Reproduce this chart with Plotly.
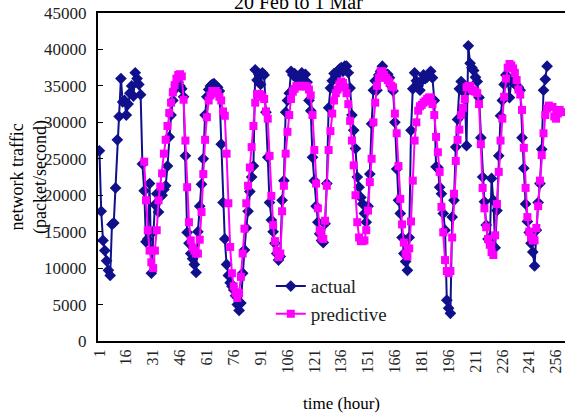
import plotly.graph_objects as go

# hour index of each observation
actual_start = 1
predictive_start = 26

actual = [
    26100, 17800, 13800, 12400, 11000, 9700, 9000, 16000, 16200, 21000,
    27600, 30800, 36000, 32800, 33000, 31000, 32500, 34000, 35000, 33600,
    36800, 36000, 35200, 33800, 24300, 20600, 13600, 14000, 21600, 9300,
    15000, 18700, 20200, 17700, 19800, 20000, 20800, 21300, 24000, 28000,
    31000, 33000, 34500, 35200, 35500, 35000, 34600, 33500, 25400, 14900,
    13400, 12000, 11300, 10500, 9400, 15000, 18500, 21500, 25000, 31000,
    33500, 34500, 35000, 35200, 35300, 35000, 34800, 34300, 27000, 19000,
    14000, 10500, 9000, 8000, 7500, 7000, 6200, 5000, 4200, 5200,
    9300, 12500, 15500, 17800, 20500, 22500, 24000, 37200, 35800, 36600,
    35200, 36800, 36500, 31400, 25200, 19000, 16600, 15000, 13400, 12000,
    11100, 11600, 19300, 22000, 31400, 33000, 34000, 37000, 36500, 36700,
    36100, 35800, 36300, 36800, 36400, 36600, 35500, 33000, 31600, 25200,
    22000, 18500, 16300, 14700, 13800, 13500, 16100, 21600, 32000, 34700,
    35700, 36700, 36300, 36800, 37300, 37500, 37000, 37700, 37700, 36800,
    34700, 31000, 28900, 26400, 22500, 21100, 19700, 18800, 17500, 16300,
    18500, 22900, 29800, 34400, 35700, 34400, 36500, 37000, 37700, 36800,
    36600, 36600, 36100, 35000, 34300, 30000, 23600, 19300, 17500, 14200,
    12000, 10900, 9700, 14200, 28900, 34600, 36800, 35700, 35000, 34400,
    35700, 36500, 36000, 36200, 36500, 37000, 36100, 33000, 23900, 23800,
    21100, 20200, 17500, 15200, 5600, 4500, 3800, 17000, 19300, 26600,
    30400, 34600, 35600, 34800, 34000, 26800, 40500, 38100, 37500, 37100,
    36200, 35600, 33400, 27900, 22500, 19100, 15900, 14000, 13600, 22300,
    19300, 12800, 17900, 25400, 30900, 33000, 35200, 36500, 36000, 33400,
    35600, 35500, 35300, 35000, 34800, 34400, 27900, 23700, 18800, 16400,
    14900, 13400, 12200, 10300, 15200, 19000, 21600, 26300, 34400, 35900,
    37700,
]

predictive = [
    24600, 19300, 15200, 12400, 10800,
    10000, 12400, 15200, 19300, 21200, 23000, 25700, 27600, 29500, 31300,
    32700, 34100, 35100, 36000, 36500, 36600, 36300, 33100, 27500, 21100,
    16300, 13800, 12800, 12400, 12000, 12000, 13900, 17700, 22900, 27600,
    30700, 33000, 33700, 34300, 34300, 34300, 34000, 33500, 33000, 31500,
    30900, 25700, 18900, 12900, 9300, 7500, 6600, 5900, 6600, 8800,
    12000, 15400, 18900, 21300, 23800, 26600, 29500, 32700, 33900, 33900,
    33800, 33500, 33200, 31500, 30500, 25400, 19900, 15900, 13700, 12400,
    11500, 12000, 17800, 21300, 25700, 28700, 31000, 33200, 34200, 34600,
    35000, 35000, 34900, 35000, 35000, 35000, 34900, 34500, 33700, 31000,
    26200, 21600, 18200, 15200, 14200, 14000, 16500, 21300, 26200, 28800,
    31200, 33000, 34000, 34500, 35200, 35600, 35400, 34800, 34000, 32500,
    30200, 27500, 24100, 20000, 16300, 14200, 13700, 13700, 13800, 15200,
    17900, 21800, 25000, 30000, 32700, 35000, 36100, 37000, 37000, 36500,
    36100, 35800, 35500, 35000, 34800, 31200, 28500, 24000, 19500, 16000,
    13500, 12000, 11600, 12700, 16400, 22000, 27500, 30000, 31600, 32200,
    32400, 32700, 32900, 33200, 33400, 33400, 32500, 31000, 28000, 25900,
    23200, 18400, 14900, 11100, 9600, 9300, 9600, 14200, 20200, 24700,
    27600, 29000, 31000, 32000, 33200, 34800, 35000, 35000, 34500, 34300,
    34200, 34000, 32500, 27000, 21000, 18200, 15600, 14000, 13200, 12200,
    11800, 14500, 18800, 23200, 27500, 30500, 33500, 36000, 37500, 38000,
    37800, 37400, 36800, 35800, 34500, 33800, 31700, 26500, 21000, 17000,
    15000, 14200, 13800, 13800, 15500, 18500, 22000, 25500, 28500, 31000,
    31900, 32300, 32100, 32100, 30800, 30500, 31200, 31700, 31400,
]

x_tick_labels = [1, 16, 31, 46, 61, 76, 91, 106, 121, 136, 151, 166, 181, 196, 211, 226, 241, 256]
y_ticks = [0, 5000, 10000, 15000, 20000, 25000, 30000, 35000, 40000, 45000]

hours_actual = list(range(actual_start, actual_start + len(actual)))
hours_pred = list(range(predictive_start, predictive_start + len(predictive)))

FONT = "Liberation Serif"
BLUE = "#10108C"
MAGENTA = "#FF00FF"

fig = go.Figure()
fig.add_trace(go.Scatter(
    x=hours_actual, y=actual, name="actual", mode="lines+markers",
    line=dict(color=BLUE, width=2),
    marker=dict(symbol="diamond", size=9, color=BLUE),
))
fig.add_trace(go.Scatter(
    x=hours_pred, y=predictive, name="predictive", mode="lines+markers",
    line=dict(color=MAGENTA, width=2),
    marker=dict(symbol="square", size=8, color=MAGENTA),
))

W, H = 565, 414
L, T, B = 97.5, 12.5, 73
fig.update_layout(
    width=W, height=H,
    margin=dict(l=L, r=0, t=T, b=B, autoexpand=False),
    paper_bgcolor="white", plot_bgcolor="white",
    font=dict(family=FONT, color="black", size=16),
    showlegend=True,
    legend=dict(
        x=0.37, y=0.225, xanchor="left", yanchor="top",
        bgcolor="rgba(0,0,0,0)", font=dict(family=FONT, size=19, color="#222"),
        tracegroupgap=0,
    ),
    annotations=[
        dict(text="20 Feb to 1 Mar", xref="paper", yref="paper", x=0.429, y=1.035,
             xanchor="center", yanchor="middle", showarrow=False,
             font=dict(family=FONT, size=20, color="black")),
        dict(text="time (hour)", xref="paper", yref="paper", x=0.521, y=-0.19,
             xanchor="center", yanchor="middle", showarrow=False,
             font=dict(family=FONT, size=17, color="black")),
        dict(text="network traffic<br>(packet/second)", xref="paper", yref="paper",
             x=-0.148, y=0.5, xanchor="center", yanchor="middle", textangle=-90,
             showarrow=False, font=dict(family=FONT, size=18, color="black")),
    ],
)
fig.update_xaxes(
    range=[0.2, 261], tickmode="array", tickvals=x_tick_labels,
    ticktext=[str(v) for v in x_tick_labels], tickangle=-90,
    tickfont=dict(family=FONT, size=16, color="#222"),
    showgrid=False, zeroline=False, showline=True, linecolor="black", linewidth=2,
    mirror=True, ticks="", automargin=False, ticklabeloverflow="allow",
)
fig.update_yaxes(
    range=[0, 45000], tickmode="array", tickvals=y_ticks,
    ticktext=[str(v) for v in y_ticks],
    tickfont=dict(family=FONT, size=17, color="#222"),
    showgrid=False, zeroline=False, showline=True, linecolor="black", linewidth=2,
    ticks="inside", ticklen=5, tickwidth=1, tickcolor="black", ticklabelstandoff=6,
    automargin=False,
)

fig.write_html(
    "out.html",
    config={"displayModeBar": False},
    post_script="document.body.style.margin='0';document.body.style.overflow='hidden';",
)
